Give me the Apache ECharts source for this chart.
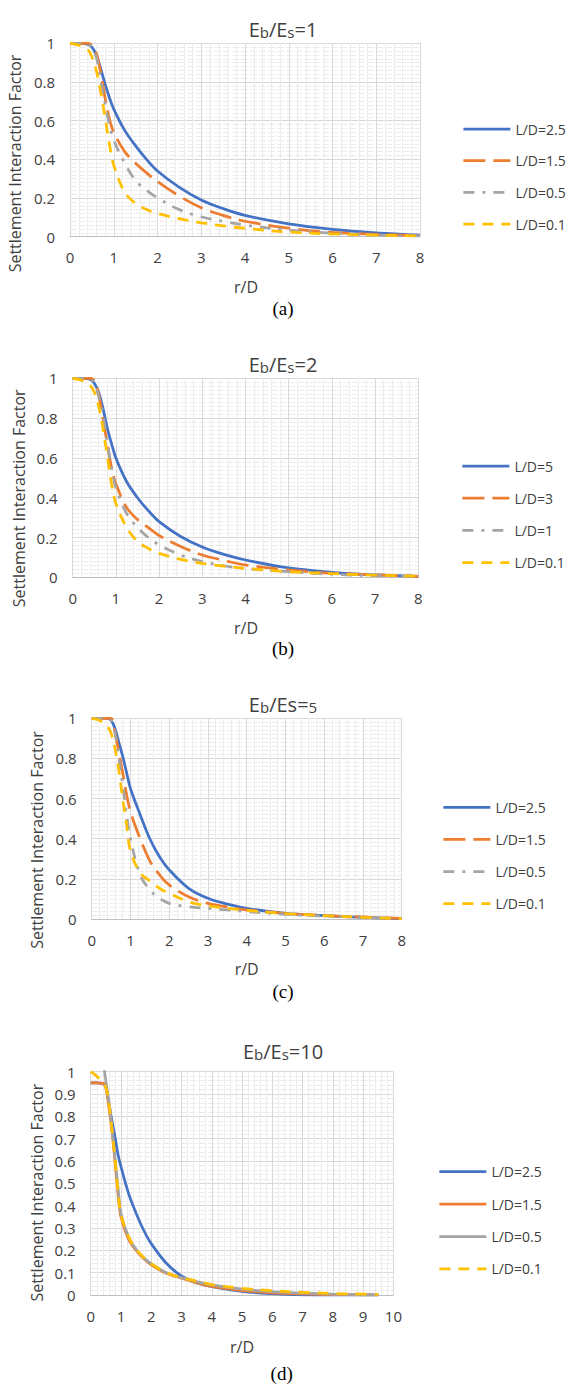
<!DOCTYPE html>
<html>
<head>
<meta charset="utf-8">
<script src="https://cdn.jsdelivr.net/npm/echarts@6/dist/echarts.min.js"></script>
<style>
  body { margin: 0; background: #fff; }
  .panel { position: absolute; left: 0; width: 566px; }
</style>
</head>
<body>
<div id="pa" class="panel" style="top:0;height:345px"></div>
<div id="pb" class="panel" style="top:345px;height:330px"></div>
<div id="pc" class="panel" style="top:675px;height:345px"></div>
<div id="pd" class="panel" style="top:1020px;height:365px"></div>
<script>
// r/D sample points
const xsABC = [0, 0.2, 0.4, 0.5, 0.6, 0.7, 0.8, 0.9, 1, 1.25, 1.5, 1.75, 2, 2.5, 3, 3.5, 4, 5, 6, 7, 8];
const xsD = [0, 0.2, 0.4, 0.5, 0.6, 0.7, 0.8, 0.9, 1, 1.25, 1.5, 1.75, 2, 2.5, 3, 3.5, 4, 5, 6, 7, 8, 9, 9.5];

// (a) Eb/Es=1
const namesA = ["L/D=2.5", "L/D=1.5", "L/D=0.5", "L/D=0.1"];
const a_LD25 = [1, 1, 0.995, 0.98, 0.94, 0.87, 0.79, 0.72, 0.66, 0.55, 0.47, 0.4, 0.34, 0.255, 0.19, 0.145, 0.11, 0.066, 0.038, 0.02, 0.008];
const a_LD15 = [1, 1, 1, 0.99, 0.95, 0.85, 0.72, 0.61, 0.54, 0.44, 0.38, 0.33, 0.285, 0.21, 0.15, 0.11, 0.08, 0.044, 0.022, 0.012, 0.005];
const a_LD05 = [1, 1, 0.995, 0.98, 0.93, 0.81, 0.69, 0.58, 0.5, 0.38, 0.29, 0.24, 0.2, 0.14, 0.103, 0.08, 0.06, 0.034, 0.018, 0.009, 0.004];
const a_LD01 = [1, 0.99, 0.97, 0.93, 0.86, 0.75, 0.62, 0.48, 0.37, 0.23, 0.172, 0.14, 0.12, 0.093, 0.072, 0.056, 0.043, 0.024, 0.014, 0.008, 0.004];

// (b) Eb/Es=2
const namesB = ["L/D=5", "L/D=3", "L/D=1", "L/D=0.1"];
const b_LD5 = [1, 1, 0.995, 0.975, 0.93, 0.85, 0.75, 0.67, 0.6, 0.48, 0.4, 0.335, 0.28, 0.205, 0.152, 0.115, 0.087, 0.047, 0.025, 0.012, 0.005];
const b_LD3 = [1, 1, 1, 0.99, 0.92, 0.8, 0.67, 0.55, 0.47, 0.35, 0.29, 0.25, 0.21, 0.155, 0.112, 0.085, 0.062, 0.037, 0.02, 0.012, 0.005];
const b_LD1 = [1, 1, 0.995, 0.98, 0.91, 0.82, 0.68, 0.55, 0.45, 0.32, 0.25, 0.2, 0.163, 0.112, 0.079, 0.058, 0.044, 0.028, 0.015, 0.008, 0.003];
const b_LD01 = [1, 0.99, 0.965, 0.93, 0.86, 0.75, 0.61, 0.47, 0.37, 0.25, 0.18, 0.145, 0.12, 0.09, 0.07, 0.056, 0.045, 0.028, 0.018, 0.011, 0.005];

// (c) Eb/Es=5
const namesC = ["L/D=2.5", "L/D=1.5", "L/D=0.5", "L/D=0.1"];
const c_LD25 = [1, 1, 1, 0.99, 0.95, 0.88, 0.81, 0.73, 0.65, 0.52, 0.4, 0.31, 0.245, 0.153, 0.103, 0.074, 0.053, 0.028, 0.017, 0.008, 0.002];
const c_LD15 = [1, 1, 1, 1, 0.93, 0.83, 0.73, 0.62, 0.535, 0.4, 0.29, 0.22, 0.17, 0.111, 0.078, 0.06, 0.045, 0.028, 0.017, 0.01, 0.003];
const c_LD05 = [1, 1, 1, 0.99, 0.93, 0.8, 0.67, 0.52, 0.4, 0.22, 0.145, 0.103, 0.078, 0.061, 0.053, 0.045, 0.037, 0.023, 0.015, 0.008, 0.002];
const c_LD01 = [1, 0.99, 0.96, 0.925, 0.85, 0.74, 0.6, 0.47, 0.34, 0.23, 0.19, 0.153, 0.128, 0.086, 0.066, 0.053, 0.043, 0.027, 0.017, 0.008, 0.002];

// (d) Eb/Es=10
const namesD = ["L/D=2.5", "L/D=1.5", "L/D=0.5", "L/D=0.1"];
const d_LD25 = [0.95, 0.95, 0.948, 0.93, 0.86, 0.78, 0.71, 0.63, 0.575, 0.455, 0.366, 0.29, 0.23, 0.142, 0.085, 0.055, 0.037, 0.016, 0.006, 0.001, 0, 0, 0];
const d_LD15 = [0.95, 0.95, 0.948, 0.93, 0.84, 0.74, 0.6, 0.455, 0.35, 0.25, 0.2, 0.163, 0.135, 0.097, 0.075, 0.054, 0.038, 0.02, 0.01, 0.005, 0.002, 0.001, 0];
const d_LD05 = [1.6, 1.35, 1.06, 0.96, 0.87, 0.75, 0.62, 0.485, 0.365, 0.26, 0.205, 0.167, 0.14, 0.1, 0.078, 0.06, 0.045, 0.026, 0.015, 0.008, 0.004, 0.002, 0.001];
const d_LD01 = [1, 0.98, 0.95, 0.93, 0.86, 0.745, 0.61, 0.47, 0.36, 0.262, 0.205, 0.168, 0.14, 0.1, 0.078, 0.062, 0.047, 0.03, 0.019, 0.012, 0.007, 0.004, 0.003];

const colors = ["#4472C4", "#ED7D31", "#A5A5A5", "#FFC000"];
const FONT = "'Open Sans', sans-serif";
const TXT = "#404040";

// dash patterns like Excel: solid, long dash, dash dot, dash
const LONG_DASH = [22, 8];
const DASH_DOT = [11, 8, 3, 8];
const DASH = [11, 8];

function pairs(xs, ys) {
  return xs.map((x, i) => [x, ys[i]]);
}

function build(p) {
  let series = p.data.map((ys, i) => ({
    name: p.names[i],
    type: "line",
    data: pairs(p.xs, ys),
    smooth: 0.35,
    symbol: "none",
    showSymbol: false,
    clip: true,
    lineStyle: { color: colors[i], width: 2.75, type: p.dash[i] },
    itemStyle: { color: colors[i] },
  }));
  return {
    animation: false,
    title: {
      text: p.title,
      left: "center",
      top: p.titleTop,
      textStyle: {
        fontFamily: FONT,
        fontSize: 20,
        fontWeight: "normal",
        color: TXT,
        lineHeight: 24,
        rich: {
          n: { fontFamily: FONT, fontSize: 20, color: TXT, lineHeight: 24, verticalAlign: "bottom" },
          s: { fontFamily: FONT, fontSize: 15, color: TXT, lineHeight: 20, verticalAlign: "bottom" },
        },
      },
    },
    legend: {
      orient: "vertical",
      left: p.legLeft,
      top: p.legTop,
      itemWidth: 47,
      itemHeight: 14,
      itemGap: p.legGap,
      itemStyle: { opacity: 0 },
      lineStyle: { width: 2.75 },
      textStyle: { fontFamily: FONT, fontSize: 14, color: TXT, lineHeight: 14 },
      data: p.names,
    },
    grid: p.grid,
    xAxis: {
      type: "value",
      min: 0,
      max: p.xMax,
      interval: 1,
      axisLine: { show: true, lineStyle: { color: "#bfbfbf", width: 1 } },
      axisTick: { show: false },
      axisLabel: { fontFamily: FONT, fontSize: 15, color: TXT, margin: 13 },
      splitLine: { show: true, lineStyle: { color: "#d9d9d9", width: 1 } },
      minorTick: { show: false, splitNumber: 5 },
      minorSplitLine: { show: true, lineStyle: { color: "#ececec", width: 1 } },
    },
    yAxis: {
      type: "value",
      min: 0,
      max: 1,
      interval: p.yInterval,
      axisLine: { show: false },
      axisTick: { show: false },
      axisLabel: { fontFamily: FONT, fontSize: 15, color: TXT, margin: 15 },
      splitLine: { show: true, lineStyle: { color: "#d9d9d9", width: 1 } },
      minorTick: { show: false, splitNumber: p.yMinor },
      minorSplitLine: { show: true, lineStyle: { color: "#ececec", width: 1, type: [7, 2] } },
    },
    graphic: [
      {
        type: "text", x: p.yName[0], y: p.yName[1], rotation: Math.PI / 2,
        style: { text: "Settlement Interaction Factor", fontFamily: FONT, fontSize: 16, fill: TXT, align: "center", verticalAlign: "middle" },
      },
      {
        type: "text", x: p.xName[0], y: p.xName[1],
        style: { text: "r/D", fontFamily: FONT, fontSize: 16, fill: TXT, align: "center", verticalAlign: "middle" },
      },
      {
        type: "text", x: p.cap[0], y: p.cap[1],
        style: { text: p.capText, fontFamily: "'Liberation Serif', 'Times New Roman', serif", fontSize: 19, fill: "#000", align: "center", verticalAlign: "middle" },
      },
    ],
    series: series,
  };
}

const panels = [
  {
    id: "pa", title: "{n|E}{s|b}{n|/E}{s|s}{n|=1}", titleTop: 10, xs: xsABC, xMax: 8, yInterval: 0.2, yMinor: 10,
    names: namesA, data: [a_LD25, a_LD15, a_LD05, a_LD01], dash: ["solid", LONG_DASH, DASH_DOT, DASH],
    grid: { left: 70, top: 43.3, width: 350, height: 193.4 },
    legLeft: 457, legTop: 117, legGap: 17.7,
    yName: [15, 163.5], xName: [246, 287], cap: [283, 308], capText: "(a)",
  },
  {
    id: "pb", title: "{n|E}{s|b}{n|/E}{s|s}{n|=2}", titleTop: 0, xs: xsABC, xMax: 8, yInterval: 0.2, yMinor: 10,
    names: namesB, data: [b_LD5, b_LD3, b_LD1, b_LD01], dash: ["solid", LONG_DASH, DASH_DOT, DASH],
    grid: { left: 72.7, top: 33.3, width: 345.6, height: 199 },
    legLeft: 456, legTop: 109, legGap: 18.2,
    yName: [18.8, 153.3], xName: [246, 282.7], cap: [283, 303], capText: "(b)",
  },
  {
    id: "pc", title: "{n|E}{s|b}{n|/Es=}{s|5}", titleTop: 10, xs: xsABC, xMax: 8, yInterval: 0.2, yMinor: 10,
    names: namesC, data: [c_LD25, c_LD15, c_LD05, c_LD01], dash: ["solid", LONG_DASH, DASH_DOT, DASH],
    grid: { left: 91.7, top: 43.3, width: 310, height: 200.7 },
    legLeft: 437, legTop: 120.3, legGap: 18.1,
    yName: [37, 165], xName: [246.7, 294.3], cap: [283, 316], capText: "(c)",
  },
  {
    id: "pd", title: "{n|E}{s|b}{n|/E}{s|s}{n|=10}", titleTop: 12, xs: xsD, xMax: 10, yInterval: 0.1, yMinor: 5,
    names: namesD, data: [d_LD25, d_LD15, d_LD05, d_LD01], dash: ["solid", "solid", "solid", DASH],
    grid: { left: 90.7, top: 51.7, width: 302.7, height: 223.3 },
    legLeft: 433, legTop: 139.7, legGap: 18.4,
    yName: [36.7, 172.7], xName: [242, 326.7], cap: [281.7, 353.3], capText: "(d)",
  },
];

panels.forEach((p) => {
  let myChart = echarts.init(document.getElementById(p.id), null, { renderer: "svg" });
  myChart.setOption(build(p));
});
</script>
</body>
</html>
